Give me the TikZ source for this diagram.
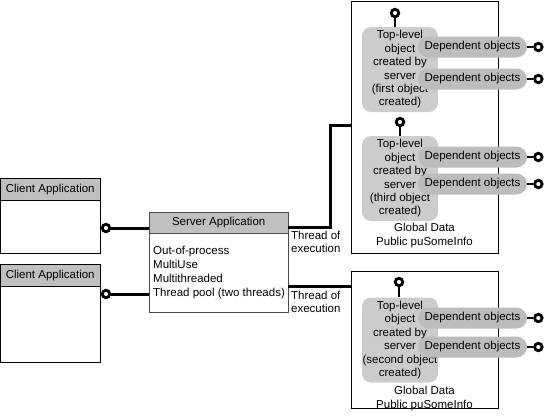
\documentclass[tikz,border=0pt]{standalone}
\usepackage{fontspec}
\setmainfont{Liberation Sans}
\usetikzlibrary{calc}
\usetikzlibrary{positioning}

\definecolor{headgray}{RGB}{192,192,192}
\definecolor{objgray}{RGB}{204,204,204}
\definecolor{depgray}{RGB}{188,188,188}

\tikzset{
    lbl/.style={font=\fontsize{11.5}{13.4}\selectfont, inner sep=0pt},
    header/.style={lbl, draw, fill=headgray, minimum height=22, anchor=north west},
    body/.style={draw, inner sep=0pt, anchor=north},
    toplevel/.style={lbl, fill=objgray, rounded corners=9, minimum width=76, minimum height=85, align=center},
    dependent/.style={lbl, fill=depgray, rounded corners=10.5, minimum width=109, minimum height=21},
    lolli/.style={circle, draw, line width=2.8, fill=white, minimum size=7.5, inner sep=0pt},
    wire/.style={line width=3},
}

\begin{document}
\begin{tikzpicture}[x=1pt, y=-1pt]
    \useasboundingbox (0,0) rectangle (548,418);

    % clients
    \node[header, minimum width=100] (c1h) at (0,178) {Client Application};
    \node[body, minimum width=100, minimum height=53] (c1) at (c1h.south) {};
    \node[header, minimum width=100] (c2h) at (0,264) {Client Application};
    \node[body, minimum width=100, minimum height=76] (c2) at (c2h.south) {};

    % server
    \node[header, minimum width=139, minimum height=21, draw=black!70] (srvh) at (149,212) {Server Application};
    \node[body, minimum width=139, minimum height=79, draw=black!70] (srv) at (srvh.south) {};
    \node[lbl, anchor=north west, align=left, font=\fontsize{11.5}{14}\selectfont] (props) at (153,246)
        {Out-of-process\\MultiUse\\Multithreaded\\Thread pool (two threads)};

    % global data boxes
    \node[draw, inner sep=0pt, minimum width=147, minimum height=252, anchor=north west] (gd1) at (351,1) {};
    \node[draw, inner sep=0pt, minimum width=147, minimum height=137, anchor=north west] (gd2) at (351,271) {};
    \node[lbl, align=center, font=\fontsize{11.5}{14}\selectfont] (gd1t) at (424.5,236) {Global Data\\Public puSomeInfo};
    \node[lbl, align=center, font=\fontsize{11.5}{14}\selectfont] (gd2t) at (424.5,399) {Global Data\\Public puSomeInfo};

    % client connections
    \node[lolli] (l1) at (106,228) {};
    \node[lolli] (l2) at (106,294) {};
    \draw[wire] (l1) -- (l1 -| srvh.west);
    \draw[wire] (l2) -- (l2 -| srv.west);

    % threads
    \coordinate (th1) at (288,227);
    \coordinate (th2) at (288,286);
    \draw[wire] (th1) -- (330,227) |- (gd1.west |- 0,125);
    \draw[wire] (th2) -- (th2 -| gd2.west);
    \node[lbl, anchor=north west, align=left] (tx1) at (291,231) {Thread of\\execution};
    \node[lbl, anchor=north west, align=left] (tx2) at (291,291) {Thread of\\execution};

    % objects
    \node[toplevel] (o1) at (400,69.5) {Top-level\\object\\created by\\server\\(first object\\created)};
    \node[toplevel] (o3) at (400,178.5) {Top-level\\object\\created by\\server\\(third object\\created)};
    \node[toplevel] (o2) at (400,340) {Top-level\\object\\created by\\server\\(second object\\created)};

    \node[dependent] (d1) at (472.5,47) {Dependent objects};
    \node[dependent] (d2) at (472.5,79) {Dependent objects};
    \node[dependent] (d3) at (472.5,157) {Dependent objects};
    \node[dependent] (d4) at (472.5,184) {Dependent objects};
    \node[dependent] (d5) at (472.5,318) {Dependent objects};
    \node[dependent] (d6) at (472.5,347) {Dependent objects};

    % interfaces
    \node[lolli] (i1) at (395,13) {};
    \node[lolli] (i3) at (400,122) {};
    \node[lolli] (i2) at (399,282) {};
    \draw[line width=2.8] (i1) -- (i1 |- o1.north);
    \draw[line width=2.8] (i3) -- (i3 |- o3.north);
    \draw[line width=2.8] (i2) -- (i2 |- o2.north);

    \foreach \d in {d1,d2,d3,d4,d5,d6} {
        \node[lolli, right=6pt of \d] (\d e) {};
        \draw[line width=2.8] (\d.east) -- (\d e);
    }
\end{tikzpicture}
\end{document}
